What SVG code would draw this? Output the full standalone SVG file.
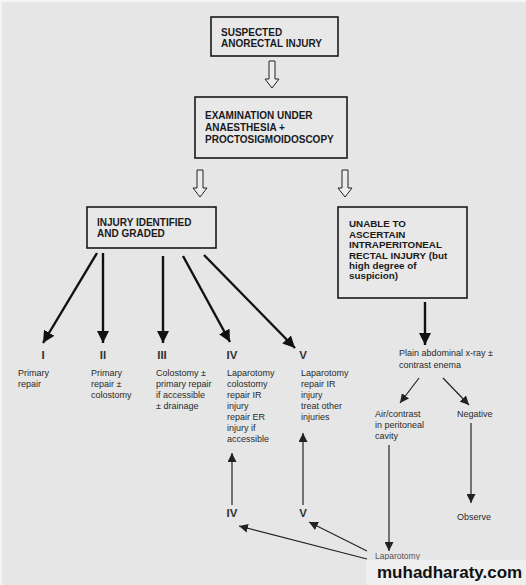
<svg xmlns="http://www.w3.org/2000/svg" width="526" height="585" viewBox="0 0 526 585">
<defs>
<style>
.bx{fill:#e8e8e8;stroke:#1a1a1a;stroke-width:1.6}
.bt{font-family:"Liberation Sans",Arial,sans-serif;font-weight:bold;font-size:10px;fill:#1a1a1a}
.bt4{font-family:"Liberation Sans",Arial,sans-serif;font-weight:bold;font-size:9.8px;fill:#1a1a1a}
.st{font-family:"Liberation Sans",Arial,sans-serif;font-size:9px;fill:#2a2a2a}
.num{font-family:"Liberation Sans",Arial,sans-serif;font-weight:bold;font-size:11.5px;fill:#333;text-anchor:middle}
.hol{fill:#ececec;stroke:#222;stroke-width:1}
.thick{stroke:#111;stroke-width:2.4;fill:none}
.thin{stroke:#222;stroke-width:1.2;fill:none}
</style>
<marker id="hb" markerUnits="userSpaceOnUse" markerWidth="14" markerHeight="12" refX="12" refY="6" orient="auto">
<path d="M0,0 L12,6 L0,12 Z" fill="#111"/>
</marker>
<marker id="ht" markerUnits="userSpaceOnUse" markerWidth="10" markerHeight="9" refX="9" refY="4.5" orient="auto">
<path d="M0,0 L9,4.5 L0,9 Z" fill="#222"/>
</marker>
</defs>
<rect width="526" height="585" fill="#e6e6e6"/>
<rect x="0" y="0" width="526" height="2" fill="#f4f4f4"/>
<rect x="0" y="0" width="2" height="585" fill="#f4f4f4"/>

<g id="n1">
<rect class="bx" x="211" y="17" width="127" height="39"/>
<text class="bt" x="221" y="35.5">SUSPECTED</text>
<text class="bt" x="221" y="46.5">ANORECTAL INJURY</text>
</g>
<g id="n2">
<rect class="bx" x="195" y="97" width="152" height="61"/>
<text class="bt" x="205" y="118.5">EXAMINATION UNDER</text>
<text class="bt" x="205" y="130.5">ANAESTHESIA +</text>
<text class="bt" x="205" y="142.5">PROCTOSIGMOIDOSCOPY</text>
</g>
<g id="n3">
<rect class="bx" x="87" y="207" width="129" height="41"/>
<text class="bt" x="97" y="226">INJURY IDENTIFIED</text>
<text class="bt" x="97" y="237">AND GRADED</text>
</g>
<g id="n4">
<rect class="bx" x="338" y="207" width="129" height="91"/>
<text class="bt4" x="349" y="227">UNABLE TO</text>
<text class="bt4" x="349" y="237.5">ASCERTAIN</text>
<text class="bt4" x="349" y="248">INTRAPERITONEAL</text>
<text class="bt4" x="349" y="258.5">RECTAL INJURY (but</text>
<text class="bt4" x="349" y="269">high degree of</text>
<text class="bt4" x="349" y="279">suspicion)</text>
</g>

<g id="g1">
<text class="num" x="43" y="359">I</text>
<text class="st" x="18" y="376">Primary</text>
<text class="st" x="18" y="387">repair</text>
</g>
<g id="g2">
<text class="num" x="103" y="359">II</text>
<text class="st" x="91" y="376">Primary</text>
<text class="st" x="91" y="387">repair ±</text>
<text class="st" x="91" y="398">colostomy</text>
</g>
<g id="g3">
<text class="num" x="162" y="359">III</text>
<text class="st" x="156" y="376">Colostomy ±</text>
<text class="st" x="156" y="387">primary repair</text>
<text class="st" x="156" y="398">if accessible</text>
<text class="st" x="156" y="409">± drainage</text>
</g>
<g id="g4">
<text class="num" x="232" y="359">IV</text>
<text class="st" x="227" y="376">Laparotomy</text>
<text class="st" x="227" y="387">colostomy</text>
<text class="st" x="227" y="398">repair IR</text>
<text class="st" x="227" y="409">injury</text>
<text class="st" x="227" y="420">repair ER</text>
<text class="st" x="227" y="431">injury if</text>
<text class="st" x="227" y="442">accessible</text>
</g>
<g id="g5">
<text class="num" x="303" y="359">V</text>
<text class="st" x="301" y="376">Laparotomy</text>
<text class="st" x="301" y="387">repair IR</text>
<text class="st" x="301" y="398">injury</text>
<text class="st" x="301" y="409">treat other</text>
<text class="st" x="301" y="420">injuries</text>
</g>
<g id="n5">
<text class="st" x="399" y="356">Plain abdominal x-ray ±</text>
<text class="st" x="399" y="368">contrast enema</text>
</g>
<g id="n6">
<text class="st" x="375" y="417">Air/contrast</text>
<text class="st" x="375" y="428">in peritoneal</text>
<text class="st" x="375" y="439">cavity</text>
</g>
<g id="n7"><text class="st" x="457" y="417">Negative</text></g>
<g id="n8"><text class="st" x="457" y="520">Observe</text></g>
<g id="n9"><text class="num" x="232" y="517">IV</text></g>
<g id="n10"><text class="num" x="303" y="517">V</text></g>
<g id="n11"><text class="st" x="375" y="559" style="font-size:8.5px;fill:#555">Laparotomy</text></g>

<g id="connectors">
<polygon class="hol" points="269,61 275,61 275,79 279,79 272,88 265,79 269,79"/>
<polygon class="hol" points="197,170 203,170 203,188 207,188 200,197 193,188 197,188"/>
<polygon class="hol" points="342,170 348,170 348,188 352,188 345,197 338,188 342,188"/>
<line class="thick" x1="97" y1="253" x2="43" y2="343" marker-end="url(#hb)"/>
<line class="thick" x1="103" y1="253" x2="103" y2="343" marker-end="url(#hb)"/>
<line class="thick" x1="163" y1="256" x2="163" y2="343" marker-end="url(#hb)"/>
<line class="thick" x1="183" y1="256" x2="230" y2="342" marker-end="url(#hb)"/>
<line class="thick" x1="204" y1="255" x2="295" y2="348" marker-end="url(#hb)"/>
<line class="thick" x1="425" y1="302" x2="425" y2="345" marker-end="url(#hb)"/>
<line class="thin" x1="419" y1="378" x2="400" y2="403" marker-end="url(#ht)"/>
<line class="thin" x1="443" y1="378" x2="469" y2="405" marker-end="url(#ht)"/>
<line class="thin" x1="471" y1="423" x2="471" y2="503" marker-end="url(#ht)"/>
<line class="thin" x1="389" y1="445" x2="389" y2="551" marker-end="url(#ht)"/>
<line class="thin" x1="232" y1="505" x2="232" y2="453" marker-end="url(#ht)"/>
<line class="thin" x1="303" y1="505" x2="303" y2="433" marker-end="url(#ht)"/>
<line class="thin" x1="367" y1="559" x2="239" y2="526" marker-end="url(#ht)"/>
<line class="thin" x1="367" y1="551" x2="309" y2="522" marker-end="url(#ht)"/>
</g>

<rect x="366" y="560" width="160" height="25" fill="#efefef"/>
<text x="377" y="578" style="font-family:'Liberation Sans',Arial,sans-serif;font-weight:bold;font-size:17px;fill:#111">muhadharaty.com</text>
</svg>
